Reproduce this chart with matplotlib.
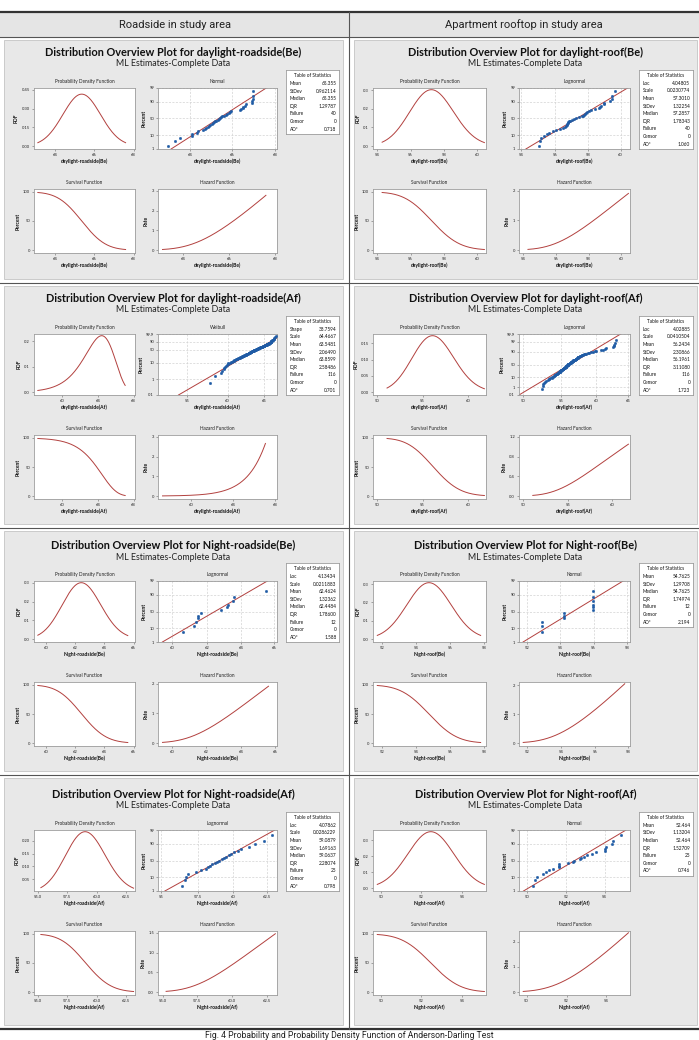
import math
import numpy as np
import matplotlib
matplotlib.use("Agg")
import matplotlib.pyplot as plt
from matplotlib.patches import Rectangle
from matplotlib.lines import Line2D

plt.rcParams['font.family'] = ['Lato', 'DejaVu Sans']

# ------------------------------------------------------------------ data
column_headers = ["Roadside in study area", "Apartment rooftop in study area"]
caption = "Fig. 4 Probability and Probability Density Function of Anderson-Darling Test"

panel_names = ["daylight-roadside(Be)", "daylight-roof(Be)",
               "daylight-roadside(Af)", "daylight-roof(Af)",
               "Night-roadside(Be)", "Night-roof(Be)",
               "Night-roadside(Af)", "Night-roof(Af)"]
panel_dists = ["Normal", "Lognormal", "Weibull", "Lognormal",
               "Lognormal", "Normal", "Lognormal", "Normal"]
# Normal: (mean, stdev)  Lognormal: (loc, scale)  Weibull: (shape, scale)
param_a = [65.355, 4.04805, 38.7594, 4.02885, 4.13434, 54.7625, 4.07862, 52.464]
param_b = [0.962114, 0.0230774, 64.4667, 0.0410504, 0.0211883, 1.29708, 0.0286229, 1.13204]

stat_labels = [
    ["Mean", "StDev", "Median", "IQR", "Failure", "Censor", "AD*"],
    ["Loc", "Scale", "Mean", "StDev", "Median", "IQR", "Failure", "Censor", "AD*"],
    ["Shape", "Scale", "Mean", "StDev", "Median", "IQR", "Failure", "Censor", "AD*"],
    ["Loc", "Scale", "Mean", "StDev", "Median", "IQR", "Failure", "Censor", "AD*"],
    ["Loc", "Scale", "Mean", "StDev", "Median", "IQR", "Failure", "Censor", "AD*"],
    ["Mean", "StDev", "Median", "IQR", "Failure", "Censor", "AD*"],
    ["Loc", "Scale", "Mean", "StDev", "Median", "IQR", "Failure", "Censor", "AD*"],
    ["Mean", "StDev", "Median", "IQR", "Failure", "Censor", "AD*"],
]
stat_values = [
    ["65.355", "0.962114", "65.355", "1.29787", "40", "0", "0.718"],
    ["4.04805", "0.0230774", "57.3010", "1.32254", "57.2857", "1.78343", "40", "0", "1.060"],
    ["38.7594", "64.4667", "63.5481", "2.06490", "63.8599", "2.58486", "116", "0", "0.701"],
    ["4.02885", "0.0410504", "56.2434", "2.30866", "56.1961", "3.11080", "116", "0", "1.723"],
    ["4.13434", "0.0211883", "62.4624", "1.32362", "62.4484", "1.78600", "12", "0", "1.588"],
    ["54.7625", "1.29708", "54.7625", "1.74974", "12", "0", "2.194"],
    ["4.07862", "0.0286229", "59.0879", "1.69163", "59.0637", "2.28074", "25", "0", "0.798"],
    ["52.464", "1.13204", "52.464", "1.52709", "25", "0", "0.746"],
]

daylight_roadside_be = [62.98, 63.30, 63.52, 64.10, 64.12, 64.35, 64.40, 64.62, 64.70, 64.78,
                        64.85, 64.90, 64.95, 65.02, 65.08, 65.12, 65.18, 65.23, 65.30, 65.35,
                        65.40, 65.45, 65.52, 65.60, 65.68, 65.75, 65.82, 65.88, 65.92, 66.35,
                        66.40, 66.48, 66.52, 66.60, 66.65, 66.90, 66.92, 66.95, 66.97, 66.98]
daylight_roof_be = [55.03, 55.10, 55.16, 55.33, 55.50, 55.65, 55.89, 56.03, 56.28, 56.48,
                    56.58, 56.63, 56.68, 56.71, 56.75, 56.79, 56.83, 56.91, 56.99, 57.10,
                    57.26, 57.43, 57.58, 57.65, 57.71, 57.77, 57.85, 57.89, 58.01, 58.14,
                    58.43, 58.67, 58.73, 58.79, 58.93, 58.99, 59.33, 59.43, 59.48, 59.63]
daylight_roadside_af = [
    57.8, 58.4, 59.2, 59.3, 59.5,
    59.6, 59.7, 59.8, 59.9, 60.0, 60.1, 60.3,
    60.5, 60.6, 60.7, 60.8, 60.9, 61.0, 61.1, 61.2, 61.3, 61.4, 61.5, 61.6, 61.7,
    61.8, 61.9, 61.9, 62.0, 62.1, 62.2, 62.2, 62.3, 62.4, 62.4, 62.5, 62.6, 62.6, 62.7, 62.8,
    62.8, 62.9, 62.9, 63.0, 63.0, 63.1, 63.1, 63.2, 63.2, 63.3,
    63.3, 63.4, 63.4, 63.5, 63.5, 63.6, 63.6, 63.7, 63.7, 63.8, 63.8, 63.9, 63.9, 64.0, 64.0,
    64.1, 64.1, 64.2, 64.2, 64.3, 64.3, 64.4, 64.4, 64.5, 64.5, 64.6, 64.6, 64.7, 64.7, 64.8,
    64.8, 64.9, 64.9, 65.0, 65.0, 65.1, 65.1, 65.2, 65.2, 65.3, 65.3, 65.4, 65.4, 65.5, 65.5,
    65.6, 65.6, 65.7, 65.7, 65.8, 65.8, 65.9, 65.9, 65.9, 66.0,
    66.0, 66.0, 66.1, 66.1, 66.2, 66.2, 66.3, 66.3, 66.4, 66.5, 66.6]
daylight_roof_af = [
    52.4, 52.5, 52.6, 52.7, 52.8, 53.0,
    53.2, 53.3, 53.4, 53.5, 53.7, 53.8,
    53.9, 54.0, 54.0, 54.1, 54.2, 54.2, 54.3, 54.4, 54.4, 54.5, 54.5, 54.6,
    54.7, 54.7, 54.8, 54.8, 54.9, 54.9, 55.0, 55.0, 55.0, 55.1, 55.1, 55.2, 55.2, 55.2, 55.3, 55.3,
    55.4, 55.4, 55.4, 55.5, 55.5, 55.5, 55.6, 55.6, 55.6, 55.7, 55.7, 55.7, 55.8, 55.8, 55.8,
    55.9, 55.9, 55.9,
    56.0, 56.0, 56.0, 56.1, 56.1, 56.2, 56.2, 56.2, 56.3, 56.3, 56.4, 56.4, 56.5, 56.5, 56.5,
    56.6, 56.6,
    56.7, 56.7, 56.8, 56.8, 56.9, 56.9, 57.0, 57.0, 57.1, 57.1, 57.2, 57.2, 57.3, 57.3, 57.4,
    57.4, 57.5,
    57.6, 57.7, 57.8, 57.9, 58.0, 58.1, 58.2, 58.3,
    58.5, 58.8, 59.0, 59.3, 59.5, 59.8, 60.0,
    60.8, 61.0, 61.3, 61.5,
    62.6, 62.7, 62.8, 62.9, 63.0]
night_roadside_be = [60.6, 61.25, 61.35, 61.45, 61.45, 61.65, 62.8, 63.15, 63.2, 63.5, 63.6, 65.5]
night_roof_be = [52.9, 52.9, 52.9, 54.2, 54.2, 54.2, 55.95, 55.95, 55.95, 55.95, 55.95, 55.95]
night_roadside_af = [56.45, 56.6, 56.7, 56.85, 57.4, 57.7, 58.05, 58.2, 58.35, 58.5, 58.7, 58.85,
                     59.0, 59.2, 59.35, 59.5, 59.7, 59.9, 60.1, 60.4, 60.6, 61.2, 61.6, 62.3, 62.9]
night_roof_af = [50.3, 50.4, 50.5, 50.85, 51.0, 51.15, 51.35, 51.65, 51.65, 51.65, 52.1, 52.35,
                 52.45, 52.75, 52.8, 52.95, 53.1, 53.35, 53.55, 54.0, 54.0, 54.05, 54.35, 54.45, 54.85]
samples = [daylight_roadside_be, daylight_roof_be, daylight_roadside_af, daylight_roof_af,
           night_roadside_be, night_roof_be, night_roadside_af, night_roof_af]

pdf_xticks = [[64, 66, 68], [54, 56, 58, 60], [60, 64, 68], [50, 55, 60],
              [60, 62, 64, 66], [52, 54, 56, 58], [55.0, 57.5, 60.0, 62.5], [50, 52, 54]]
pdf_xdec = [0, 0, 0, 0, 0, 0, 1, 0]
prob_xticks = [[64, 66, 68], [54, 56, 58, 60], [55, 60, 65], [50, 55, 60, 65],
               [60, 62, 64, 66], [52, 54, 56, 58], [55, 57.5, 60, 62.5], [50, 52, 54]]
prob_xticklabels = [["64", "66", "68"], ["54", "56", "58", "60"], ["55", "60", "65"],
                    ["50", "55", "60", "65"], ["60", "62", "64", "66"], ["52", "54", "56", "58"],
                    ["55", "57.5", "60", "62.5"], ["50", "52", "54"]]
prob_xlim = [[62.5, 68.1], [53.9, 60.6], [51.6, 66.8], [49.5, 65.3],
             [59.2, 66.2], [51.5, 58.2], [54.8, 63.3], [49.6, 55.3]]
prob_percents = [[1, 10, 50, 90, 99], [1, 10, 50, 90, 99], [0.1, 1, 10, 50, 90, 99.9],
                 [0.1, 1, 10, 50, 90, 99, 99.9], [1, 10, 50, 90, 99], [1, 10, 50, 90, 99],
                 [1, 10, 50, 90, 99], [1, 10, 50, 90, 99]]
pdf_yticks = [[0, 0.15, 0.30, 0.45], [0, 0.1, 0.2, 0.3], [0, 0.1, 0.2], [0, 0.05, 0.10, 0.15],
              [0, 0.1, 0.2, 0.3], [0, 0.1, 0.2, 0.3], [0.05, 0.10, 0.15, 0.20], [0, 0.1, 0.2, 0.3]]
pdf_ydec = [2, 1, 1, 2, 1, 1, 2, 1]
surv_yticks = [0, 50, 100]
haz_yticks = [[0, 1, 2, 3], [0, 1, 2], [0, 1, 2, 3], [0, 0.4, 0.8, 1.2],
              [0, 1, 2], [0, 1, 2], [0, 0.5, 1.0, 1.5], [0, 1, 2]]
haz_ydec = [0, 0, 0, 1, 0, 0, 1, 0]

# ------------------------------------------------------------------ math helpers
_erf = np.vectorize(math.erf)


def norm_cdf(z):
    return 0.5 * (1.0 + _erf(np.asarray(z, dtype=float) / math.sqrt(2.0)))


def _ppf1(p):
    a = [-3.969683028665376e+01, 2.209460984245205e+02, -2.759285104469687e+02,
         1.383577518672690e+02, -3.066479806614716e+01, 2.506628277459239e+00]
    b = [-5.447609879822406e+01, 1.615858368580409e+02, -1.556989798598866e+02,
         6.680131188771972e+01, -1.328068155288572e+01]
    c = [-7.784894002430293e-03, -3.223964580411365e-01, -2.400758277161838e+00,
         -2.549732539343734e+00, 4.374664141464968e+00, 2.938163982698783e+00]
    d = [7.784695709041462e-03, 3.224671290700398e-01, 2.445134137142996e+00,
         3.754408661907416e+00]
    plow = 0.02425
    if p < plow:
        q = math.sqrt(-2 * math.log(p))
        return (((((c[0]*q+c[1])*q+c[2])*q+c[3])*q+c[4])*q+c[5]) / \
               ((((d[0]*q+d[1])*q+d[2])*q+d[3])*q+1)
    if p > 1 - plow:
        q = math.sqrt(-2 * math.log(1 - p))
        return -(((((c[0]*q+c[1])*q+c[2])*q+c[3])*q+c[4])*q+c[5]) / \
                ((((d[0]*q+d[1])*q+d[2])*q+d[3])*q+1)
    q = p - 0.5
    r = q * q
    return (((((a[0]*r+a[1])*r+a[2])*r+a[3])*r+a[4])*r+a[5])*q / \
           (((((b[0]*r+b[1])*r+b[2])*r+b[3])*r+b[4])*r+1)


norm_ppf = np.vectorize(_ppf1)


def dist_funcs(kind, a, b):
    if kind == "Normal":
        pdf = lambda x: np.exp(-0.5 * ((x - a) / b) ** 2) / (b * math.sqrt(2 * math.pi))
        sf = lambda x: 1 - norm_cdf((x - a) / b)
        ppf = lambda p: a + b * norm_ppf(p)
    elif kind == "Lognormal":
        pdf = lambda x: np.exp(-0.5 * ((np.log(x) - a) / b) ** 2) / (x * b * math.sqrt(2 * math.pi))
        sf = lambda x: 1 - norm_cdf((np.log(x) - a) / b)
        ppf = lambda p: np.exp(a + b * norm_ppf(p))
    else:
        k, lam = a, b
        pdf = lambda x: k / lam * (x / lam) ** (k - 1) * np.exp(-(x / lam) ** k)
        sf = lambda x: np.exp(-(x / lam) ** k)
        ppf = lambda p: lam * (-np.log(1 - np.asarray(p))) ** (1.0 / k)
    return pdf, sf, ppf


def prob_y(kind, p):
    p = np.asarray(p, dtype=float)
    if kind == "Weibull":
        return np.log(-np.log(1 - p))
    return norm_ppf(p)


# ------------------------------------------------------------------ layout
W, H = 699, 1040
fig = plt.figure(figsize=(W / 100, H / 100), dpi=100)
fig.patch.set_facecolor("white")

CURVE = "#b2403e"
POINT = "#1f5ba5"
SPINE = "#9c9c9c"
PANEL_BG = "#e8e8e8"


def fx(x):
    return x / W


def fy(y):
    return 1 - y / H


def add_axes(x0, y0, x1, y1):
    return fig.add_axes([fx(x0), fy(y1), (x1 - x0) / W, (y1 - y0) / H])


def fig_line(x0, y0, x1, y1, lw, color):
    fig.add_artist(Line2D([fx(x0), fx(x1)], [fy(y0), fy(y1)], transform=fig.transFigure,
                          lw=lw, color=color, zorder=5))


def fig_rect(x0, y0, x1, y1, fc, ec="none", lw=0.0, z=-2):
    fig.add_artist(Rectangle((fx(x0), fy(y1)), (x1 - x0) / W, (y1 - y0) / H,
                             transform=fig.transFigure, facecolor=fc, edgecolor=ec,
                             lw=lw, zorder=z))


def style_axes(ax):
    for s in ax.spines.values():
        s.set_color(SPINE)
        s.set_linewidth(0.6)
    ax.tick_params(length=1.6, width=0.4, color="#666666", labelsize=3.0, pad=1.2,
                   labelcolor="#222222")
    ax.minorticks_off()


def fmt(v, dec):
    return f"{v:.{dec}f}"


# header band and rules
fig_rect(0, 12, W, 37, "#e5e5e5")
fig.text(fx(175), fy(25), column_headers[0], ha="center", va="center", fontsize=8,
         family=["Roboto", "DejaVu Sans"], color="#222222")
fig.text(fx(524), fy(25), column_headers[1], ha="center", va="center", fontsize=8,
         family=["Roboto", "DejaVu Sans"], color="#222222")
fig_line(0, 12, W, 12, 1.6, "#333333")
fig_line(0, 37, W, 37, 0.8, "#555555")
for yy in [283, 528, 775]:
    fig_line(0, yy, W, yy, 0.8, "#555555")
fig_line(0, 1029, W, 1029, 1.6, "#333333")
fig_line(349, 12, 349, 1029, 0.8, "#555555")
fig.text(0.5, fy(1039.5), caption, ha="center", va="bottom", fontsize=6.2,
         family=["Roboto", "DejaVu Sans"], color="#222222")

row_tops = [37, 283, 528, 775]
row_next = [283, 528, 775, 1029]
row_shift = [0, 0, 2, 4]
col_geom = [
    dict(bg=(4, 343), pdf=(34, 135), prob=(158, 277), table=(286, 339)),
    dict(bg=(354, 697), pdf=(373, 486), prob=(519, 630), table=(639, 693)),
]

for i in range(8):
    row, col = divmod(i, 2)
    g = col_geom[col]
    R = row_tops[row] + row_shift[row]
    kind = panel_dists[i]
    a, b = param_a[i], param_b[i]
    pdf, sf, ppf = dist_funcs(kind, a, b)
    name = panel_names[i]
    data = np.sort(np.asarray(samples[i], dtype=float))
    n = len(data)

    # panel background
    fig_rect(g["bg"][0], row_tops[row] + 3, g["bg"][1], row_next[row] - 4, PANEL_BG,
             ec="#c4c4c4", lw=0.6)
    cx = (g["bg"][0] + g["bg"][1]) / 2
    fig.text(fx(cx), fy(R + 15), f"Distribution Overview Plot for {name}", ha="center",
             va="center", fontsize=7.9, fontweight="bold", color="#111111")
    fig.text(fx(cx), fy(R + 27), "ML Estimates-Complete Data", ha="center", va="center",
             fontsize=6.4, color="#222222")

    # curve domain
    xlo, xhi = float(ppf(0.01)), float(ppf(0.99))
    xs = np.linspace(xlo, xhi, 300)
    pdf_v = pdf(xs)
    sf_v = sf(xs)
    haz_v = pdf_v / sf_v
    t = pdf_xticks[i]
    span = max(xhi, t[-1]) - min(xlo, t[0])
    cxlim = (min(xlo, t[0]) - 0.04 * span, max(xhi, t[-1]) + 0.015 * span)

    def yl(ticks, vals):
        lo = min(ticks[0], vals.min())
        hi = max(ticks[-1], vals.max())
        sp = hi - lo
        return lo - 0.05 * sp, hi + 0.03 * sp

    up0, up1 = R + 51, R + 112
    lo0, lo1 = R + 152, R + 216
    sub_lab_kw = dict(fontsize=3.4, color="#222222")
    axlab_kw = dict(fontsize=3.6, fontweight="bold", color="#111111")

    # --- PDF
    ax = add_axes(g["pdf"][0], up0, g["pdf"][1], up1)
    ax.plot(xs, pdf_v, color=CURVE, lw=0.7)
    ax.set_xlim(*cxlim)
    ax.set_ylim(*yl(pdf_yticks[i], pdf_v))
    ax.set_xticks(t, [fmt(v, pdf_xdec[i]) for v in t])
    ax.set_yticks(pdf_yticks[i], [fmt(v, pdf_ydec[i]) for v in pdf_yticks[i]])
    ax.set_title("Probability Density Function", pad=3.5, **sub_lab_kw)
    ax.set_xlabel(name, labelpad=1.5, **axlab_kw)
    ax.set_ylabel("PDF", labelpad=2, **axlab_kw)
    style_axes(ax)

    # --- probability plot
    ax = add_axes(g["prob"][0], up0, g["prob"][1], up1)
    pct = prob_percents[i]
    p_lo, p_hi = pct[0] / 100.0, pct[-1] / 100.0
    if kind != "Normal":
        ax.set_xscale("log")
    pg = np.linspace(p_lo, p_hi, 200)
    ax.plot(ppf(pg), prob_y(kind, pg), color=CURVE, lw=0.7, zorder=2)
    ranks = (np.arange(1, n + 1) - 0.3) / (n + 0.4)
    ax.plot(data, prob_y(kind, ranks), "o", ms=1.9, color=POINT, mec=POINT, mew=0.2,
            zorder=3, clip_on=False)
    ax.set_xlim(*prob_xlim[i])
    ax.set_ylim(float(prob_y(kind, p_lo)), float(prob_y(kind, p_hi)))
    ax.set_xticks(prob_xticks[i], prob_xticklabels[i])
    ax.set_yticks(prob_y(kind, np.array(pct) / 100.0), [f"{v:g}" for v in pct])
    ax.minorticks_off()
    ax.grid(True, color="#d2d2d2", lw=0.5, ls=(0, (3, 2)), zorder=0)
    ax.set_axisbelow(True)
    ax.set_title(kind, pad=3.5, **sub_lab_kw)
    ax.set_xlabel(name, labelpad=1.5, **axlab_kw)
    ax.set_ylabel("Percent", labelpad=2, **axlab_kw)
    style_axes(ax)

    # --- survival
    ax = add_axes(g["pdf"][0], lo0, g["pdf"][1], lo1)
    ax.plot(xs, 100 * sf_v, color=CURVE, lw=0.7)
    ax.set_xlim(*cxlim)
    ax.set_ylim(-5, 105)
    ax.set_xticks(t, [fmt(v, pdf_xdec[i]) for v in t])
    ax.set_yticks(surv_yticks, [str(v) for v in surv_yticks])
    ax.set_title("Survival Function", pad=3.5, **sub_lab_kw)
    ax.set_xlabel(name, labelpad=1.5, **axlab_kw)
    ax.set_ylabel("Percent", labelpad=2, **axlab_kw)
    style_axes(ax)

    # --- hazard
    ax = add_axes(g["prob"][0], lo0, g["prob"][1], lo1)
    ax.plot(xs, haz_v, color=CURVE, lw=0.7)
    ax.set_xlim(*cxlim)
    ax.set_ylim(*yl(haz_yticks[i], haz_v))
    ax.set_xticks(t, [fmt(v, pdf_xdec[i]) for v in t])
    ax.set_yticks(haz_yticks[i], [fmt(v, haz_ydec[i]) for v in haz_yticks[i]])
    ax.set_title("Hazard Function", pad=3.5, **sub_lab_kw)
    ax.set_xlabel(name, labelpad=1.5, **axlab_kw)
    ax.set_ylabel("Rate", labelpad=2, **axlab_kw)
    style_axes(ax)

    # --- table of statistics
    labs, vals = stat_labels[i], stat_values[i]
    lh = 7.6
    t0 = R + 33
    t1 = t0 + lh * (len(labs) + 1) + 3
    tx0, tx1 = g["table"]
    tax = add_axes(tx0, t0, tx1, t1)
    tax.set_xticks([])
    tax.set_yticks([])
    for s in tax.spines.values():
        s.set_color(SPINE)
        s.set_linewidth(0.6)
    th = t1 - t0
    tax.text(0.5, 1 - (2 + lh * 0.5) / th, "Table of Statistics", ha="center", va="center",
             fontsize=3.4, color="#111111", transform=tax.transAxes)
    for j, (lab, val) in enumerate(zip(labs, vals)):
        yy = 1 - (2 + lh * (j + 1.5)) / th
        tax.text(0.07, yy, lab, ha="left", va="center", fontsize=3.4, color="#111111",
                 transform=tax.transAxes)
        tax.text(0.95, yy, val, ha="right", va="center", fontsize=3.4, color="#111111",
                 transform=tax.transAxes)

fig.savefig("out.png", dpi=100, facecolor="white")
